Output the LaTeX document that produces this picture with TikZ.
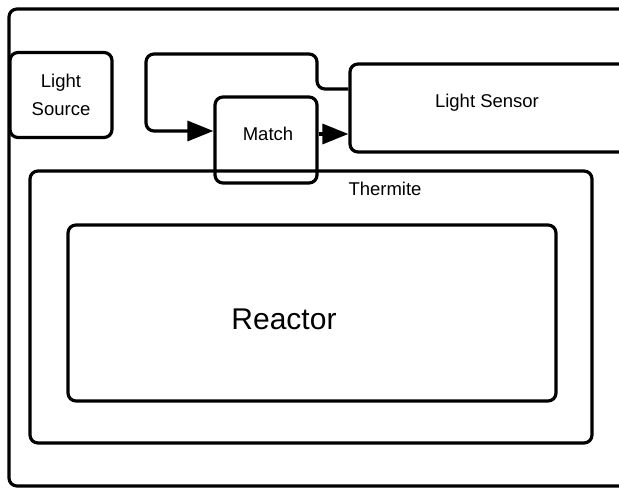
\documentclass[tikz,border=0pt]{standalone}
\usepackage{fontspec}
\setmainfont{Liberation Sans}
\usetikzlibrary{arrows.meta,positioning,calc}
\begin{document}
\begin{tikzpicture}[x=1pt,y=-1pt,
  box/.style={draw=black,line width=3.2pt,rounded corners=8pt,inner sep=0pt},
  lbl/.style={font=\fontsize{18.5}{28}\selectfont,align=center,inner sep=0pt},
  conn/.style={draw=black,line width=3.2pt,rounded corners=8pt,-{Triangle[length=26pt,width=20pt]}}]
\useasboundingbox (0,0) rectangle (619,489);
\clip (0,0) rectangle (619,489);
% outer frame
\draw[box] (9,9) rectangle (650,486);
% thermite
\node[box,minimum width=562pt,minimum height=272pt] (thermite) at (311,307) {};
\node[lbl] (thermitelbl) at (385,189) {Thermite};
% reactor
\node[box,minimum width=488pt,minimum height=176pt] (reactor) at (312,313) {};
\node[font=\fontsize{30}{36}\selectfont,inner sep=0pt] (reactorlbl) at (284,319) {Reactor};
% light source
\node[box,minimum width=102pt,minimum height=85pt,lbl] (source) at (61,95) {Light\\Source};
% match
\node[box,minimum width=102pt,minimum height=86pt] (match) at (266,140) {};
\node[lbl] (matchlbl) at (268,134) {Match};
% light sensor
\node[box,minimum width=300pt,minimum height=88pt] (sensor) at (500,108) {};
\node[lbl] (sensorlbl) at (487,103) {Light Sensor};
% connectors
\coordinate (s1) at (sensor.west |- 0,89);
\coordinate (m1) at (match.west |- 0,131);
\draw[conn] (s1) -- (317,89) -- (317,54) -- (146,54) -- (146,131) -- (m1);
\draw[conn] (match.east |- 0,134) -- (sensor.west |- 0,134);
\end{tikzpicture}
\end{document}
